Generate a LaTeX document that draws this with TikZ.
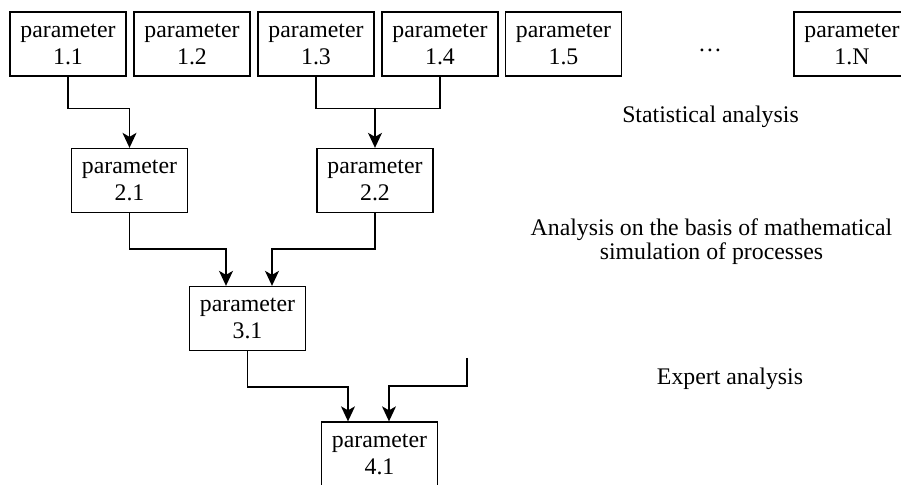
\documentclass[tikz,border=0pt]{standalone}
\usepackage{fontspec}
\setmainfont{Liberation Serif}
\usetikzlibrary{arrows.meta}

\begin{document}
\begin{tikzpicture}[x=0.5pt,y=-0.5pt,line width=0.65pt,
    >={Stealth[length=7.5pt,width=7pt,inset=2pt]}]

      \useasboundingbox (0,0) rectangle (901,485);
      \clip (0,0) rectangle (901,485);

      \begin{scope}[every node/.style={rectangle,draw,minimum width=58pt,minimum height=32pt,
          inner sep=0pt,align=center,font=\fontsize{11.9}{13.5}\selectfont}]
        \node (11) at (68,44)    {parameter\\1.1};
        \node (12) at (192,44)   {parameter\\1.2};
        \node (13) at (316,44)   {parameter\\1.3};
        \node (14) at (440,44)   {parameter\\1.4};
        \node (15) at (563.5,44) {parameter\\1.5};
        \node (1N) at (852,44)   {parameter\\1.N};
        \node (21) at (129.5,180.5) {parameter\\2.1};
        \node (22) at (375,180.5)   {parameter\\2.2};
        \node (31) at (247.5,318.5) {parameter\\3.1};
        \node (41) at (379.5,454)   {parameter\\4.1};
      \end{scope}

      \begin{scope}[every node/.style={align=center,font=\fontsize{11.9}{12}\selectfont}]
        \node (dots)   at (710,50)    {\dots};
        \node (stat)   at (710.5,117) {Statistical analysis};
        \node (math)   at (711.5,242) {Analysis on the basis of mathematical\\simulation of processes};
        \node (expert) at (730,379)   {Expert analysis};
      \end{scope}

      \coordinate (j1)  at (375,108);
      \coordinate (ext) at (467,358);

      \draw[->] (11.south) -- ++(0,32) -| (21.north);
      \draw (13.south) -- ++(0,32) -| (14.south);
      \draw[->] (j1) -- (22.north);
      \draw[->] (21.south) -- ++(0,36) -| ([xshift=-10.75pt]31.north);
      \draw[->] (22.south) -- ++(0,36) -| ([xshift=12.25pt]31.north);
      \draw[->] (31.south) -- ++(0,36) -| ([xshift=-15.75pt]41.north);
      \draw[->] (ext) -- ++(0,28) -| ([xshift=4.75pt]41.north);

    \end{tikzpicture}
\end{document}
